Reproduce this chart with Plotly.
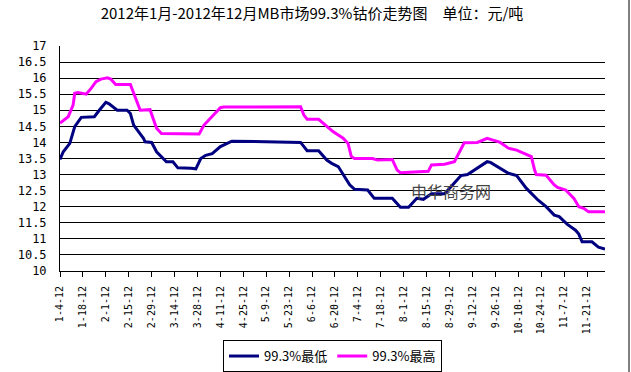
import plotly.graph_objects as go

title_text = "2012年1月-2012年12月MB市场99.3%钴价走势图　单位：元/吨"
series_names = ["99.3%最低", "99.3%最高"]
watermark = "申华商务网"

max_dates = ["2012-01-04", "2012-01-09", "2012-01-12", "2012-01-13", "2012-01-15", "2012-01-20",
             "2012-01-23", "2012-01-26", "2012-01-29", "2012-02-02", "2012-02-04", "2012-02-07",
             "2012-02-16", "2012-02-18", "2012-02-21", "2012-02-22", "2012-02-28", "2012-03-01",
             "2012-03-03", "2012-03-06", "2012-03-29", "2012-04-01", "2012-04-06", "2012-04-11",
             "2012-04-13", "2012-05-30", "2012-06-01", "2012-06-03", "2012-06-10", "2012-06-15",
             "2012-06-19", "2012-06-25", "2012-06-28", "2012-06-30", "2012-07-02", "2012-07-13",
             "2012-07-16", "2012-07-25", "2012-07-28", "2012-07-30", "2012-08-16", "2012-08-18",
             "2012-08-26", "2012-09-01", "2012-09-04", "2012-09-07", "2012-09-15", "2012-09-21",
             "2012-09-29", "2012-10-04", "2012-10-09", "2012-10-18", "2012-10-20", "2012-10-21",
             "2012-10-27", "2012-11-01", "2012-11-03", "2012-11-08", "2012-11-13", "2012-11-16",
             "2012-11-19", "2012-11-22", "2012-12-02"]
max_values = [14.6, 14.8, 15.16, 15.53, 15.55, 15.5,
              15.68, 15.89, 15.97, 16.01, 15.97, 15.8,
              15.8, 15.53, 15.16, 15.0, 15.02, 14.75,
              14.44, 14.28, 14.26, 14.54, 14.82, 15.08,
              15.1, 15.11, 14.85, 14.72, 14.72, 14.49,
              14.33, 14.13, 13.97, 13.56, 13.5, 13.5,
              13.45, 13.47, 13.14, 13.06, 13.1, 13.3,
              13.32, 13.4, 13.71, 13.99, 14.0, 14.13,
              14.0, 13.82, 13.76, 13.56, 13.14, 13.0,
              12.98, 12.68, 12.6, 12.52, 12.26, 12.0,
              11.95, 11.84, 11.84]

min_dates = ["2012-01-04", "2012-01-06", "2012-01-10", "2012-01-13", "2012-01-17", "2012-01-25",
             "2012-01-28", "2012-02-01", "2012-02-03", "2012-02-08", "2012-02-14", "2012-02-16",
             "2012-02-18", "2012-02-21", "2012-02-24", "2012-02-25", "2012-02-29", "2012-03-03",
             "2012-03-06", "2012-03-09", "2012-03-13", "2012-03-16", "2012-03-24", "2012-03-27",
             "2012-03-30", "2012-04-02", "2012-04-06", "2012-04-11", "2012-04-18", "2012-05-30",
             "2012-06-03", "2012-06-10", "2012-06-15", "2012-06-18", "2012-06-22", "2012-06-26",
             "2012-06-29", "2012-07-02", "2012-07-10", "2012-07-14", "2012-07-25", "2012-07-30",
             "2012-08-04", "2012-08-09", "2012-08-13", "2012-08-18", "2012-08-26", "2012-08-31",
             "2012-09-05", "2012-09-09", "2012-09-21", "2012-09-23", "2012-09-29", "2012-10-04",
             "2012-10-09", "2012-10-15", "2012-10-22", "2012-10-27", "2012-11-01", "2012-11-04",
             "2012-11-09", "2012-11-14", "2012-11-16", "2012-11-18", "2012-11-24", "2012-11-28",
             "2012-12-02"]
min_values = [13.47, 13.71, 13.97, 14.49, 14.78, 14.8,
              15.0, 15.25, 15.2, 15.0, 15.0, 14.9,
              14.54, 14.33, 14.13, 14.02, 14.0, 13.71,
              13.56, 13.4, 13.4, 13.21, 13.2, 13.18,
              13.5, 13.6, 13.65, 13.87, 14.04, 14.0,
              13.74, 13.74, 13.45, 13.35, 13.25, 12.91,
              12.68, 12.54, 12.52, 12.26, 12.26, 11.98,
              11.98, 12.26, 12.23, 12.4, 12.4, 12.68,
              12.97, 13.0, 13.4, 13.38, 13.19, 13.04,
              12.97, 12.57, 12.21, 12.0, 11.74, 11.69,
              11.45, 11.27, 11.15, 10.91, 10.91, 10.74,
              10.68]

y_ticks = [10, 10.5, 11, 11.5, 12, 12.5, 13, 13.5, 14, 14.5, 15, 15.5, 16, 16.5, 17]

FONT = "Noto Sans CJK SC"
MONO = "DejaVu Sans Mono"

fig = go.Figure()
fig.add_trace(go.Scatter(x=min_dates, y=min_values, mode="lines", name=series_names[0],
                         line=dict(color="#000080", width=3)))
fig.add_trace(go.Scatter(x=max_dates, y=max_values, mode="lines", name=series_names[1],
                         line=dict(color="#FF00FF", width=3)))

fig.update_layout(
    width=631, height=372,
    margin=dict(l=60, r=26, t=46, b=101, autoexpand=False),
    paper_bgcolor="white", plot_bgcolor="white",
    font=dict(family=FONT, color="black", size=11),
    title=dict(text=title_text, x=312 / 631, xanchor="center", y=1 - 8 / 372, yanchor="top",
               font=dict(family=FONT, size=15, color="black")),
    showlegend=True,
    legend=dict(orientation="h", x=0.5, xanchor="center", y=-0.307, yanchor="top",
                bordercolor="black", borderwidth=1, bgcolor="white",
                font=dict(family=FONT, size=13, color="black"),
                itemwidth=30, tracegroupgap=0),
)

fig.update_xaxes(
    type="date", range=["2012-01-04", "2012-12-02"], automargin=False,
    tick0="2012-01-04", dtick=14 * 86400000, tickformat="%-m-%-d-%y",
    tickangle=-90, ticks="outside", ticklen=5, tickcolor="black",
    showline=True, linecolor="black", linewidth=1, showgrid=False, zeroline=False,
    tickfont=dict(family=MONO, size=10, color="black"), ticklabelstandoff=5,
)
fig.update_yaxes(
    range=[10, 17], tickvals=y_ticks, ticktext=[f"{v:g}" for v in y_ticks], automargin=False,
    showline=True, linecolor="black", linewidth=1,
    showgrid=True, gridcolor="black", gridwidth=1, zeroline=False,
    tickfont=dict(family=MONO, size=12, color="black"), ticklabelstandoff=10,
)

fig.add_annotation(text=watermark, xref="paper", yref="paper",
                   x=(451 - 60) / 545, y=(271 - 191) / 225, xanchor="center", yanchor="middle",
                   showarrow=False,
                   font=dict(family=FONT, size=16, color="#444444"))

fig.add_shape(type="line", xref="paper", yref="paper",
              x0=(629 - 60) / 545, x1=(629 - 60) / 545, y0=(271 - 372) / 225, y1=271 / 225,
              line=dict(color="black", width=1))

fig.write_html("out.html", config={"displayModeBar": False},
               post_script="document.body.style.margin='0px';document.body.style.overflow='hidden';")
